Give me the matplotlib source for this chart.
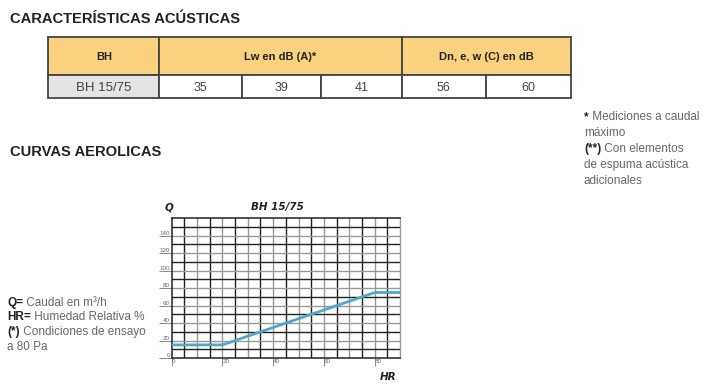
import numpy as np
import matplotlib
matplotlib.use('Agg')
import matplotlib.pyplot as plt

W, H = 723, 389

# datos de la tabla
cabecera = ['BH', 'Lw en dB (A)*', 'Dn, e, w (C) en dB']
modelo = 'BH 15/75'
lw_valores = [35, 39, 41]
dn_valores = [56, 60]

# curva aerolica
hr = [0, 20, 80, 90]
caudal = [15, 15, 75, 75]
yticks = [0, 20, 40, 60, 80, 100, 120, 140]
xticks = [0, 20, 40, 60, 80]

# (parte en negrita, resto)
notas = [('*', ' Mediciones a caudal'), ('', 'máximo'), ('(**)', ' Con elementos'),
         ('', 'de espuma acústica'), ('', 'adicionales')]
leyenda = [('Q=', ' Caudal en m³/h'), ('HR=', ' Humedad Relativa %'),
           ('(*)', ' Condiciones de ensayo'), ('', 'a 80 Pa')]

plt.rcParams['font.family'] = ['Liberation Sans', 'DejaVu Sans']

fig = plt.figure(figsize=(W / 100, H / 100), dpi=100)
renderer = fig.canvas.get_renderer()


def fx(x):
    return x / W


def fy(y):
    return 1 - y / H


def texto_mixto(x, y, negrita, resto, size=8.5):
    # parte en negrita seguida del resto en gris
    x_px = x
    if negrita:
        t = fig.text(fx(x_px), fy(y), negrita, fontsize=size, fontweight='bold',
                     color='#222222', va='center')
        x_px += t.get_window_extent(renderer).width
    fig.text(fx(x_px), fy(y), resto, fontsize=size, color='#666666', va='center')


# titulos
fig.text(fx(10), fy(19), 'CARACTERÍSTICAS ACÚSTICAS', fontsize=10.6, fontweight='bold',
         color='#222222', va='center')
fig.text(fx(10), fy(152), 'CURVAS AEROLICAS', fontsize=10.6, fontweight='bold',
         color='#222222', va='center')

# tabla dibujada en un eje en pixeles
tab = fig.add_axes([0, 0, 1, 1], zorder=0)
tab.set_xlim(0, W)
tab.set_ylim(H, 0)
tab.axis('off')

cols = [48.3, 159.3, 242.3, 321, 401.7, 485.7, 570.7]
y_top, y_mid, y_bot = 36.7, 75, 98.3
borde = '#444444'
amarillo = '#F9D17F'

# cabecera
spans = [(cols[0], cols[1]), (cols[1], cols[4]), (cols[4], cols[6])]
for (a, b), txt in zip(spans, cabecera):
    tab.add_patch(plt.Rectangle((a, y_top), b - a, y_mid - y_top, facecolor=amarillo,
                                edgecolor=borde, lw=1.3))
    tab.text((a + b) / 2, (y_top + y_mid) / 2 + 1, txt, ha='center', va='center',
             fontsize=8, fontweight='bold', color='#222222')

# fila de datos
valores = [modelo] + [str(v) for v in lw_valores + dn_valores]
for i, txt in enumerate(valores):
    a, b = cols[i], cols[i + 1]
    fc = '#E4E4E4' if i == 0 else 'white'
    tab.add_patch(plt.Rectangle((a, y_mid), b - a, y_bot - y_mid, facecolor=fc,
                                edgecolor=borde, lw=1.3))
    tab.text((a + b) / 2, (y_mid + y_bot) / 2 + 1, txt, ha='center', va='center',
             fontsize=9.5 if i == 0 else 9, color='#444444')

# notas a la derecha
for k, (neg, resto) in enumerate(notas):
    texto_mixto(584, 117 + k * 16, neg, resto)

# leyenda izquierda
for k, (neg, resto) in enumerate(leyenda):
    texto_mixto(7, 303 + k * 14.5, neg, resto)

# grafico
ax = fig.add_axes([171.7 / W, 1 - 358 / H, 228.3 / W, 139.7 / H], zorder=2)
ax.set_xlim(0, 90)
ax.set_ylim(0, 160)

for x in np.arange(5, 90, 5):
    ax.axvline(x, color='#999999' if x % 10 == 0 else '#222222', lw=1.0, zorder=1)
for y in np.arange(10, 160, 10):
    ax.axhline(y, color='#999999' if y % 20 == 0 else '#222222', lw=1.0, zorder=1)

ax.plot(hr, caudal, color='#4DA9C5', lw=2, zorder=3, solid_joinstyle='miter')

for s in ['left', 'bottom', 'top']:
    ax.spines[s].set_color('#222222')
    ax.spines[s].set_linewidth(1.1)
ax.spines['right'].set_color('#999999')
ax.spines['right'].set_linewidth(1.0)

ax.set_yticks(yticks)
ax.set_yticklabels([str(v) for v in yticks])
ax.set_xticks(xticks)
ax.set_xticklabels([str(v) for v in xticks])
ax.tick_params(axis='y', length=9.5, width=0.6, color='#777777', pad=-8.2,
               labelsize=4.5, labelcolor='#666666')
ax.tick_params(axis='x', length=6, width=0.6, color='#777777', pad=-5.5,
               labelsize=4.5, labelcolor='#666666')
for lbl in ax.get_yticklabels():
    lbl.set_va('bottom')
for lbl in ax.get_xticklabels():
    lbl.set_ha('left')

fig.text(fx(165), fy(207), 'Q', fontsize=7.5, fontweight='bold', style='italic',
         color='#222222', va='center', family=['DejaVu Sans'])
fig.text(fx(277), fy(207), 'BH 15/75', fontsize=7.5, fontweight='bold', style='italic',
         color='#222222', va='center', ha='center', family=['DejaVu Sans'])
fig.text(fx(396), fy(377), 'HR', fontsize=7.5, fontweight='bold', style='italic',
         color='#222222', va='center', ha='right', family=['DejaVu Sans'])

fig.savefig('out.png', dpi=100, facecolor='white')
